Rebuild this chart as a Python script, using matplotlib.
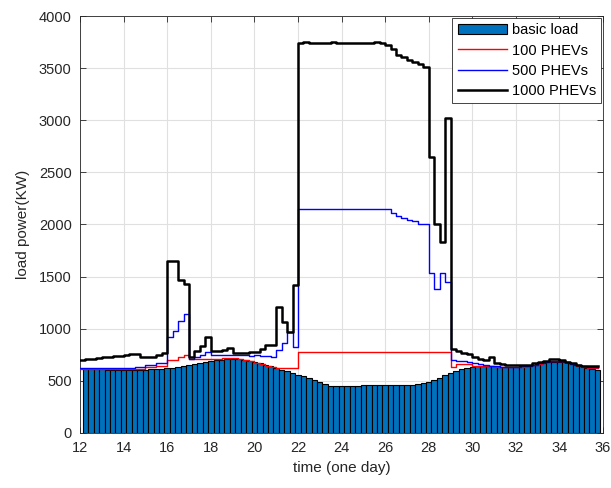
import matplotlib
matplotlib.use('Agg')
import matplotlib.pyplot as plt
import numpy as np

plt.rcParams['font.family'] = ['Liberation Sans', 'DejaVu Sans']

# basic load, one bar per quarter hour, centred at 12.25 ... 35.75
bar_times = np.arange(12.25, 35.76, 0.25)
basic_load = [
    611, 610, 610, 609, 608, 608, 607, 606, 605, 605, 606, 608,
    610, 613, 617, 622,
    627, 633, 640, 648,
    657, 667, 677, 687,
    696, 703, 708, 710,
    706, 700, 692, 682,
    668, 655, 640, 622,
    605, 590, 575, 558,
    545, 528, 510, 490,
    470, 452, 446, 448,
    450, 452, 454, 455,
    455, 455, 455, 455,
    455, 455, 455, 456,
    458, 466, 476, 490,
    505, 530, 560, 575,
    595, 612, 626, 634,
    638, 640, 640, 638,
    636, 635, 635, 636,
    638, 643, 650, 660,
    670, 678, 684, 684,
    678, 668, 655, 640,
    625, 614, 606,
]

# load with charging, stairs starting at 12.00 ... 35.75
step_times = np.arange(12.0, 35.76, 0.25)
phev_100 = [
    614, 614, 614, 614, 614, 613, 613, 612, 612, 612, 613, 614,
    628, 630, 640, 642,
    700, 700, 726, 745,
    710, 708, 706, 710,
    705, 712, 716, 718,
    714, 708, 700, 690,
    675, 660, 645, 635,
    625, 622, 620, 620,
    778, 778, 776, 778,
    778, 778, 780, 778,
    778, 778, 778, 780,
    780, 778, 778, 778,
    780, 778, 776, 778,
    774, 772, 776, 778,
    776, 772, 772, 774,
    636, 665, 662, 660,
    645, 640, 640, 640,
    636, 636, 636, 636,
    636, 636, 642, 652,
    665, 677, 686, 690,
    686, 676, 662, 646,
    634, 626, 620, 620,
]
phev_500 = [
    625, 625, 625, 625, 625, 625, 625, 625, 625, 626, 628, 628,
    650, 652, 668, 670,
    924, 981, 1077, 1138,
    705, 725, 750, 775,
    748, 748, 750, 752,
    752, 750, 745, 742,
    750, 742, 738, 725,
    800, 860, 965, 828,
    2150, 2150, 2148, 2150,
    2150, 2152, 2150, 2150,
    2150, 2150, 2150, 2150,
    2150, 2150, 2150, 2150,
    2145, 2110, 2085, 2065,
    2045, 2030, 2005, 2000,
    1530, 1385, 1530, 1450,
    700, 694, 687, 678,
    668, 659, 650, 645,
    638, 636, 636, 636,
    636, 638, 645, 655,
    668, 680, 690, 694,
    690, 680, 665, 650,
    640, 632, 628, 628,
]
phev_1000 = [
    700, 705, 712, 718, 724, 730, 736, 742, 750, 756, 758, 730,
    730, 732, 745, 765,
    1652, 1652, 1467, 1426,
    732, 790, 834, 924,
    790, 790, 792, 812,
    764, 764, 764, 775,
    780, 805, 845, 845,
    1211, 1067, 971, 1416,
    3745, 3748, 3745, 3745,
    3745, 3745, 3748, 3745,
    3745, 3745, 3745, 3745,
    3745, 3745, 3748, 3745,
    3725, 3680, 3630, 3605,
    3580, 3560, 3540, 3515,
    2650, 2000, 1835, 3025,
    805, 786, 770, 755,
    732, 713, 700, 726,
    668, 660, 655, 652,
    652, 652, 652, 668,
    684, 694, 707, 710,
    700, 684, 668, 652,
    646, 646, 646, 646,
]

fig = plt.figure(figsize=(6.11, 4.88), dpi=100)
ax = fig.add_axes([0.131, 0.113, 0.856, 0.854])

bars = ax.bar(bar_times, basic_load, width=0.25, color='#0072BD', edgecolor='black',
              linewidth=0.8, label='basic load', zorder=2)
l1, = ax.step(step_times, phev_100, where='post', color='red', lw=1.0, label='100 PHEVs', zorder=3)
l2, = ax.step(step_times, phev_500, where='post', color='blue', lw=1.0, label='500 PHEVs', zorder=4)
l3, = ax.step(step_times, phev_1000, where='post', color='black', lw=1.8, label='1000 PHEVs', zorder=5)

ax.set_xlim(12, 36)
ax.set_ylim(0, 4000)
ax.set_xticks(np.arange(12, 37, 2))
ax.set_yticks(np.arange(0, 4001, 500))
ax.grid(True, color='#e0e0e0', lw=0.8, zorder=0)
ax.set_axisbelow(True)
ax.tick_params(direction='in', top=True, right=True, length=4, labelsize=10.5,
               colors='#262626', width=0.6, pad=6)
for s in ax.spines.values():
    s.set_color('#262626')
    s.set_linewidth(0.6)

ax.set_xlabel('time (one day)', fontsize=11, color='#262626', labelpad=4)
ax.set_ylabel('load power(KW)', fontsize=11, color='#262626', labelpad=6)

leg = ax.legend([bars, l1, l2, l3], ['basic load', '100 PHEVs', '500 PHEVs', '1000 PHEVs'],
                loc='upper right', fontsize=10.5, fancybox=False, framealpha=1,
                edgecolor='#262626', borderaxespad=0.15, handlelength=3.4,
                handletextpad=0.3, labelspacing=0.42, borderpad=0.35)
leg.get_frame().set_linewidth(0.6)

fig.savefig('out.png', dpi=100)
